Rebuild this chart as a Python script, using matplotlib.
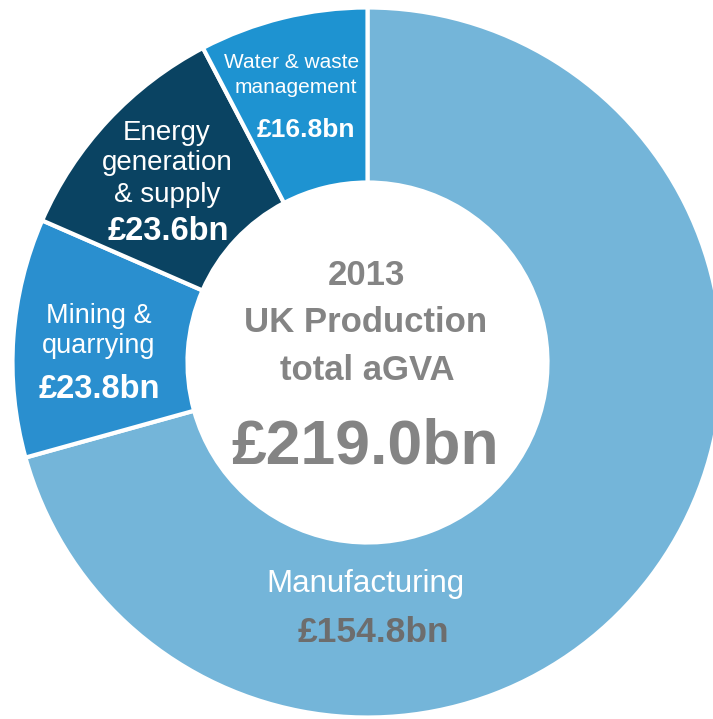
import matplotlib
matplotlib.use("Agg")
import matplotlib.pyplot as plt

plt.rcParams['font.family'] = ['Liberation Sans', 'DejaVu Sans']

# UK production aGVA 2013, £bn
sectors = ['Manufacturing', 'Mining &\nquarrying', 'Energy\ngeneration\n& supply', 'Water & waste\nmanagement']
values = [154.8, 23.8, 23.6, 16.8]
total = 219.0
year = 2013
colors = ['#74b5d9', '#2a8fcf', '#0a4362', '#1e93d1']

W, H = 713, 719
fig = plt.figure(figsize=(W / 100, H / 100), dpi=100)
ax = fig.add_axes([0, 0, 1, 1])


def yy(y):
    # pixel rows counted from the top
    return H - y


ax.pie(values, colors=colors, startangle=90, counterclock=False,
       radius=355, center=(367.5, yy(362.5)),
       wedgeprops=dict(width=175, edgecolor='white', linewidth=3))

ax.set_xlim(0, W)
ax.set_ylim(0, H)
ax.set_aspect('equal')
ax.axis('off')

white = 'white'
grey = '#848484'

# water & waste
ax.text(292, yy(68), 'Water & waste', color=white, fontsize=15, ha='center', va='baseline')
ax.text(296, yy(93), 'management', color=white, fontsize=15, ha='center', va='baseline')
ax.text(306, yy(137), f'£{values[3]:.1f}bn', color=white, fontsize=19, fontweight='bold',
        ha='center', va='baseline')

# energy
for txt, y in zip(sectors[2].split('\n'), [140, 170, 202]):
    ax.text(167, yy(y), txt, color=white, fontsize=20, ha='center', va='baseline')
ax.text(168, yy(240), f'£{values[2]:.1f}bn', color=white, fontsize=23.5, fontweight='bold',
        ha='center', va='baseline')

# mining
for txt, y in zip(sectors[1].split('\n'), [323, 353]):
    ax.text(99, yy(y), txt, color=white, fontsize=19.5, ha='center', va='baseline')
ax.text(99, yy(398), f'£{values[1]:.1f}bn', color=white, fontsize=23.5, fontweight='bold',
        ha='center', va='baseline')

# manufacturing
ax.text(365, yy(592), sectors[0], color=white, fontsize=22.5, ha='center', va='baseline')
ax.text(373, yy(642), f'£{values[0]:.1f}bn', color='#6d6d6d', fontsize=25.5, fontweight='bold',
        ha='center', va='baseline')

# centre of the ring
ax.text(366, yy(285), str(year), color=grey, fontsize=25, fontweight='bold', ha='center', va='baseline')
ax.text(366, yy(332), 'UK Production', color=grey, fontsize=25, fontweight='bold', ha='center', va='baseline')
ax.text(367, yy(380), 'total aGVA', color=grey, fontsize=25, fontweight='bold', ha='center', va='baseline')
ax.text(365, yy(463), f'£{total:.1f}bn', color=grey, fontsize=45, fontweight='bold', ha='center', va='baseline')

fig.savefig('out.png', dpi=100)
